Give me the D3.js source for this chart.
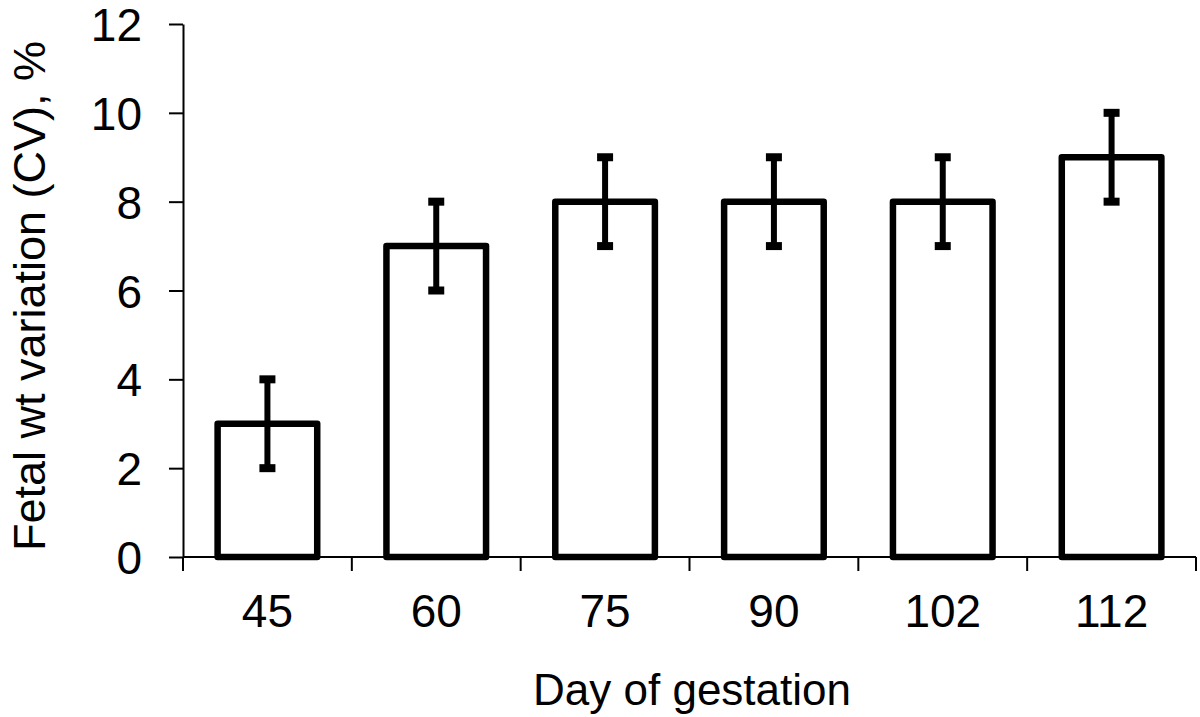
<!DOCTYPE html>
<html>
<head>
<meta charset="utf-8">
<script src="https://cdn.jsdelivr.net/npm/d3@7"></script>
<style>
  body { margin: 0; background: #fff; }
  text { font-family: "Liberation Sans", Arial, sans-serif; fill: #000; }
</style>
</head>
<body>
<div id="chart"></div>
<script>
const days = ["45", "60", "75", "90", "102", "112"];
const cv = [3, 7, 8, 8, 8, 9];
const errLow = [2, 6, 7, 7, 7, 8];
const errHigh = [4, 8, 9, 9, 9, 10];
const yTicks = [0, 2, 4, 6, 8, 10, 12];

const W = 1200, H = 717;
const margin = {top: 24, right: 4, bottom: 160, left: 183};
const width = W - margin.left - margin.right;
const height = H - margin.top - margin.bottom;

const svg = d3.select("#chart").append("svg")
  .attr("width", W).attr("height", H);
const g = svg.append("g")
  .attr("transform", "translate(" + margin.left + "," + margin.top + ")");

const x = d3.scaleBand().domain(days).range([0, width]).paddingInner(0.41).paddingOuter(0.205);
const xb = d3.scaleBand().domain(days).range([0, width]);
const y = d3.scaleLinear().domain([0, 12]).range([height, 0]);

// y axis
const yAxis = g.append("g")
  .call(d3.axisLeft(y).tickValues(yTicks).tickSize(14).tickPadding(27).tickSizeOuter(0));
yAxis.select(".domain").attr("stroke-width", 2);
yAxis.selectAll(".tick line").attr("stroke-width", 2);
yAxis.selectAll(".tick text").attr("font-size", 46).attr("dy", "0.36em");

// x axis: ticks between categories
g.append("line")
  .attr("x1", 0).attr("x2", width)
  .attr("y1", height).attr("y2", height)
  .attr("stroke", "#000").attr("stroke-width", 2);
const bounds = days.map(d => xb(d)).concat([width]);
g.selectAll(".xtick").data(bounds).enter().append("line")
  .attr("x1", d => d).attr("x2", d => d)
  .attr("y1", height).attr("y2", height + 14)
  .attr("stroke", "#000").attr("stroke-width", 2);
g.selectAll(".xlab").data(days).enter().append("text")
  .attr("x", d => xb(d) + xb.bandwidth() / 2)
  .attr("y", 627 - margin.top)
  .attr("text-anchor", "middle")
  .attr("font-size", 46)
  .text(d => d);

// bars
g.selectAll(".bar").data(days).enter().append("rect")
  .attr("x", d => x(d))
  .attr("width", x.bandwidth())
  .attr("y", (d, i) => y(cv[i]))
  .attr("height", (d, i) => y(0) - y(cv[i]))
  .attr("fill", "#fff")
  .attr("stroke", "#000")
  .attr("stroke-width", 6.5)
  .attr("stroke-linejoin", "round");

// error bars
const cx = d => x(d) + x.bandwidth() / 2;
g.selectAll(".err").data(days).enter().append("line")
  .attr("x1", cx).attr("x2", cx)
  .attr("y1", (d, i) => y(errLow[i]))
  .attr("y2", (d, i) => y(errHigh[i]))
  .attr("stroke", "#000").attr("stroke-width", 6);
["lo", "hi"].forEach(k => {
  g.selectAll(".cap" + k).data(days).enter().append("line")
    .attr("x1", d => cx(d) - 8).attr("x2", d => cx(d) + 8)
    .attr("y1", (d, i) => y(k === "lo" ? errLow[i] : errHigh[i]))
    .attr("y2", (d, i) => y(k === "lo" ? errLow[i] : errHigh[i]))
    .attr("stroke", "#000").attr("stroke-width", 8);
});

// titles
svg.append("text")
  .attr("x", 692)
  .attr("y", 705)
  .attr("text-anchor", "middle")
  .attr("font-size", 44)
  .text("Day of gestation");
svg.append("text")
  .attr("transform", "translate(45,296) rotate(-90)")
  .attr("text-anchor", "middle")
  .attr("font-size", 45)
  .text("Fetal wt variation (CV), %");
</script>
</body>
</html>
